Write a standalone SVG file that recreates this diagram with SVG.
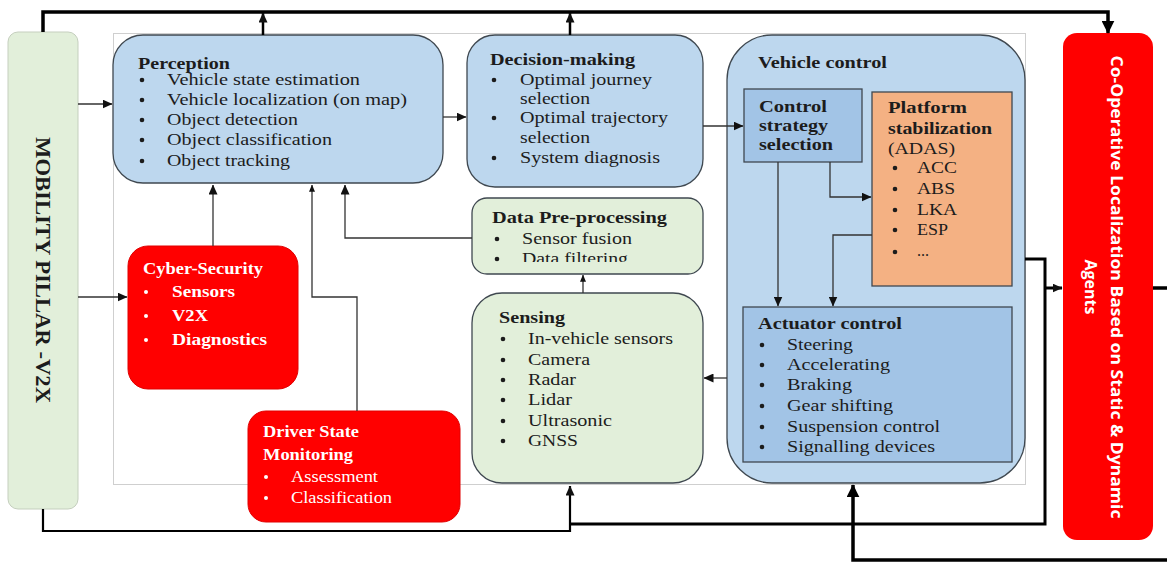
<svg xmlns="http://www.w3.org/2000/svg" width="1167" height="565" viewBox="0 0 1167 565">
<style>
.t{font-family:"Liberation Serif","Times New Roman",serif;font-size:16px;fill:#1c1c1c}
.w{font-family:"Liberation Serif","Times New Roman",serif;font-size:16px;fill:#ffffff}
.b{font-weight:bold}
.blue{fill:#bdd7ee;stroke:#3f4850;stroke-width:1.3}
.dblue{fill:#a2c4e6;stroke:#3f4850;stroke-width:1.3}
.green{fill:#e2efda;stroke:#3f4850;stroke-width:1.3}
.red{fill:#ff0000;stroke:#e00000;stroke-width:1}
.thin{fill:none;stroke:#333;stroke-width:1.3}
.thick{fill:none;stroke:#000;stroke-width:3.5}
.dot{fill:#1c1c1c}
.wdot{fill:#ffffff}
</style>
<defs>
<marker id="ah" viewBox="0 0 10 10" refX="9.5" refY="5" markerWidth="10" markerHeight="9" orient="auto" markerUnits="userSpaceOnUse" preserveAspectRatio="none"><path d="M0,0L10,5L0,10z" fill="#111"/></marker>
<marker id="as" viewBox="0 0 10 10" refX="9.5" refY="5" markerWidth="7" markerHeight="6" orient="auto" markerUnits="userSpaceOnUse" preserveAspectRatio="none"><path d="M0,0L10,5L0,10z" fill="#111"/></marker>
<marker id="ab" viewBox="0 0 10 10" refX="9.5" refY="5" markerWidth="13" markerHeight="13" orient="auto" markerUnits="userSpaceOnUse" preserveAspectRatio="none"><path d="M0,0L10,5L0,10z" fill="#000"/></marker>
<clipPath id="dpclip"><rect x="472" y="198" width="231" height="64"/></clipPath>
</defs>
<rect width="1167" height="565" fill="#ffffff"/>
<rect id="panel" x="113.5" y="33.5" width="912" height="451" fill="#ffffff" stroke="#cfcfcf" stroke-width="1"/>

<g id="mobility">
<rect x="8" y="32" width="70" height="477" rx="10" fill="#e2efda" stroke="#c5cfbe" stroke-width="1"/>
<text class="t b" transform="translate(36,270) rotate(90)" text-anchor="middle" textLength="266" lengthAdjust="spacingAndGlyphs" style="font-size:20px">MOBILITY  PILLAR -V2X</text>
</g>

<g id="perception">
<rect class="blue" x="113" y="35" width="330" height="148" rx="30"/>
<text class="t b" x="138" y="69" textLength="92" lengthAdjust="spacingAndGlyphs">Perception</text>
<circle class="dot" cx="142" cy="80" r="2.3"/><circle class="dot" cx="142" cy="100" r="2.3"/><circle class="dot" cx="142" cy="120" r="2.3"/><circle class="dot" cx="142" cy="140" r="2.3"/><circle class="dot" cx="142" cy="161" r="2.3"/>
<text class="t" x="167" y="85" textLength="193" lengthAdjust="spacingAndGlyphs">Vehicle state estimation</text>
<text class="t" x="167" y="105" textLength="240" lengthAdjust="spacingAndGlyphs">Vehicle localization (on map)</text>
<text class="t" x="167" y="125" textLength="131" lengthAdjust="spacingAndGlyphs">Object detection</text>
<text class="t" x="167" y="145" textLength="165" lengthAdjust="spacingAndGlyphs">Object classification</text>
<text class="t" x="167" y="166" textLength="123" lengthAdjust="spacingAndGlyphs">Object tracking</text>
</g>

<g id="decision">
<rect class="blue" x="467" y="35" width="236" height="152" rx="28"/>
<text class="t b" x="490" y="65" textLength="145" lengthAdjust="spacingAndGlyphs">Decision-making</text>
<circle class="dot" cx="494" cy="80" r="2.3"/><circle class="dot" cx="494" cy="118" r="2.3"/><circle class="dot" cx="494" cy="158" r="2.3"/>
<text class="t" x="520" y="85" textLength="132" lengthAdjust="spacingAndGlyphs">Optimal journey</text>
<text class="t" x="520" y="104" textLength="70" lengthAdjust="spacingAndGlyphs">selection</text>
<text class="t" x="520" y="123" textLength="148" lengthAdjust="spacingAndGlyphs">Optimal trajectory</text>
<text class="t" x="520" y="143" textLength="70" lengthAdjust="spacingAndGlyphs">selection</text>
<text class="t" x="520" y="163" textLength="140" lengthAdjust="spacingAndGlyphs">System diagnosis</text>
</g>

<g id="vehicle-control">
<rect class="blue" x="727" y="35" width="298" height="448" rx="45"/>
<text class="t b" x="758" y="68" textLength="129" lengthAdjust="spacingAndGlyphs">Vehicle control</text>
</g>

<g id="control-strategy">
<rect class="dblue" x="744" y="89" width="118" height="73"/>
<text class="t b" x="759" y="112" textLength="68" lengthAdjust="spacingAndGlyphs">Control</text>
<text class="t b" x="759" y="131" textLength="69" lengthAdjust="spacingAndGlyphs">strategy</text>
<text class="t b" x="759" y="150" textLength="74" lengthAdjust="spacingAndGlyphs">selection</text>
</g>

<g id="platform">
<rect x="872" y="92" width="140" height="194" fill="#f4b183" stroke="#3f4850" stroke-width="1.3"/>
<text class="t b" x="888" y="113" textLength="79" lengthAdjust="spacingAndGlyphs">Platform</text>
<text class="t b" x="888" y="134" textLength="104" lengthAdjust="spacingAndGlyphs">stabilization</text>
<text class="t" x="888" y="154" textLength="67" lengthAdjust="spacingAndGlyphs">(ADAS)</text>
<circle class="dot" cx="895" cy="168" r="2.3"/><circle class="dot" cx="895" cy="189" r="2.3"/><circle class="dot" cx="895" cy="210" r="2.3"/><circle class="dot" cx="895" cy="230" r="2.3"/><circle class="dot" cx="895" cy="252" r="2.3"/>
<text class="t" x="917" y="173" textLength="40" lengthAdjust="spacingAndGlyphs">ACC</text>
<text class="t" x="917" y="194" textLength="38" lengthAdjust="spacingAndGlyphs">ABS</text>
<text class="t" x="917" y="215" textLength="40" lengthAdjust="spacingAndGlyphs">LKA</text>
<text class="t" x="917" y="235" textLength="31" lengthAdjust="spacingAndGlyphs">ESP</text>
<text class="t" x="917" y="256">...</text>
</g>

<g id="actuator">
<rect class="dblue" x="743" y="307" width="269" height="155"/>
<text class="t b" x="758" y="329" textLength="144" lengthAdjust="spacingAndGlyphs">Actuator control</text>
<circle class="dot" cx="762" cy="345" r="2.3"/><circle class="dot" cx="762" cy="365" r="2.3"/><circle class="dot" cx="762" cy="385" r="2.3"/><circle class="dot" cx="762" cy="406" r="2.3"/><circle class="dot" cx="762" cy="427" r="2.3"/><circle class="dot" cx="762" cy="447" r="2.3"/>
<text class="t" x="787" y="350" textLength="66" lengthAdjust="spacingAndGlyphs">Steering</text>
<text class="t" x="787" y="370" textLength="103" lengthAdjust="spacingAndGlyphs">Accelerating</text>
<text class="t" x="787" y="390" textLength="65" lengthAdjust="spacingAndGlyphs">Braking</text>
<text class="t" x="787" y="411" textLength="106" lengthAdjust="spacingAndGlyphs">Gear shifting</text>
<text class="t" x="787" y="432" textLength="153" lengthAdjust="spacingAndGlyphs">Suspension control</text>
<text class="t" x="787" y="452" textLength="148" lengthAdjust="spacingAndGlyphs">Signalling devices</text>
</g>

<g id="data-preprocessing">
<rect class="green" x="472" y="198" width="231" height="76" rx="15"/>
<text class="t b" x="492" y="223" textLength="175" lengthAdjust="spacingAndGlyphs">Data Pre-processing</text>
<circle class="dot" cx="497" cy="239" r="2.3"/><circle class="dot" cx="497" cy="259" r="2.3"/>
<text class="t" x="522" y="244" textLength="110" lengthAdjust="spacingAndGlyphs">Sensor fusion</text>
<text class="t" x="522" y="264" textLength="106" lengthAdjust="spacingAndGlyphs" clip-path="url(#dpclip)">Data filtering</text>
</g>

<g id="sensing">
<rect class="green" x="472" y="293" width="231" height="190" rx="30"/>
<text class="t b" x="499" y="323" textLength="66" lengthAdjust="spacingAndGlyphs">Sensing</text>
<circle class="dot" cx="503" cy="339" r="2.3"/><circle class="dot" cx="503" cy="360" r="2.3"/><circle class="dot" cx="503" cy="380" r="2.3"/><circle class="dot" cx="503" cy="400" r="2.3"/><circle class="dot" cx="503" cy="421" r="2.3"/><circle class="dot" cx="503" cy="441" r="2.3"/>
<text class="t" x="528" y="344" textLength="145" lengthAdjust="spacingAndGlyphs">In-vehicle sensors</text>
<text class="t" x="528" y="365" textLength="62" lengthAdjust="spacingAndGlyphs">Camera</text>
<text class="t" x="528" y="385" textLength="48" lengthAdjust="spacingAndGlyphs">Radar</text>
<text class="t" x="528" y="405" textLength="44" lengthAdjust="spacingAndGlyphs">Lidar</text>
<text class="t" x="528" y="426" textLength="84" lengthAdjust="spacingAndGlyphs">Ultrasonic</text>
<text class="t" x="528" y="446" textLength="50" lengthAdjust="spacingAndGlyphs">GNSS</text>
</g>

<g id="cyber-security">
<rect class="red" x="128" y="246" width="170" height="143" rx="20"/>
<text class="w b" x="143" y="274" textLength="120" lengthAdjust="spacingAndGlyphs">Cyber-Security</text>
<circle class="wdot" cx="146" cy="292" r="2"/><circle class="wdot" cx="146" cy="316" r="2"/><circle class="wdot" cx="146" cy="340" r="2"/>
<text class="w b" x="172" y="297" textLength="63" lengthAdjust="spacingAndGlyphs">Sensors</text>
<text class="w b" x="172" y="321" textLength="36" lengthAdjust="spacingAndGlyphs">V2X</text>
<text class="w b" x="172" y="345" textLength="95" lengthAdjust="spacingAndGlyphs">Diagnostics</text>
</g>

<g id="driver-state">
<rect class="red" x="248" y="411" width="212" height="111" rx="18"/>
<text class="w b" x="263" y="437" textLength="96" lengthAdjust="spacingAndGlyphs">Driver State</text>
<text class="w b" x="263" y="460" textLength="90" lengthAdjust="spacingAndGlyphs">Monitoring</text>
<circle class="wdot" cx="266" cy="477" r="2"/><circle class="wdot" cx="266" cy="498" r="2"/>
<text class="w" x="291" y="482" textLength="87" lengthAdjust="spacingAndGlyphs">Assessment</text>
<text class="w" x="291" y="503" textLength="101" lengthAdjust="spacingAndGlyphs">Classification</text>
</g>

<g id="cooperative">
<rect x="1063" y="33" width="90" height="507" rx="14" fill="#ff0000"/>
<text transform="translate(1111,287) rotate(90)" text-anchor="middle" style="font-family:'Open Sans','Liberation Sans',sans-serif;font-size:16px;font-weight:bold;fill:#ffffff"><tspan x="0" y="0" textLength="463" lengthAdjust="spacingAndGlyphs">Co-Operative Localization Based on Static &amp; Dynamic</tspan><tspan x="0" y="26">Agents</tspan></text>
</g>

<g id="connectors">
<path class="thin" d="M78,104H112" marker-end="url(#ah)"/>
<path class="thin" d="M78,297H127" marker-end="url(#ah)"/>
<path class="thin" d="M443,117H466" marker-end="url(#ah)"/>
<path class="thin" d="M703,126H743" marker-end="url(#ah)"/>
<path class="thin" d="M213,246V185" marker-end="url(#ah)"/>
<path class="thin" d="M357,411V297H312V185" marker-end="url(#as)"/>
<path class="thin" d="M472,238H345V185" marker-end="url(#ah)"/>
<path class="thin" d="M583,293V275" marker-end="url(#as)"/>
<path class="thin" d="M727,378H704" marker-end="url(#ah)"/>
<path class="thin" d="M778,162V306" marker-end="url(#ah)"/>
<path class="thin" d="M830,162V197H871" marker-end="url(#ah)"/>
<path class="thin" d="M872,235H833V306" marker-end="url(#ah)"/>
<path class="thick" d="M43,32V12H1108V33" marker-end="url(#ab)"/>
<path class="thick" style="stroke-width:2.5" d="M263,35V13" marker-end="url(#ah)"/>
<path class="thick" style="stroke-width:2.5" d="M570,35V13" marker-end="url(#ah)"/>
<path class="thick" style="stroke-width:2.2" d="M43,509V531H570V486" marker-end="url(#ah)"/>
<path class="thick" style="stroke-width:3" d="M1025,259H1045V524H570"/>
<path class="thick" style="stroke-width:3" d="M1045,288H1062" marker-end="url(#ah)"/>
<path class="thick" d="M1153,288H1167"/>
<path class="thick" d="M1167,560H853V485" marker-end="url(#ab)"/>
</g>
</svg>
